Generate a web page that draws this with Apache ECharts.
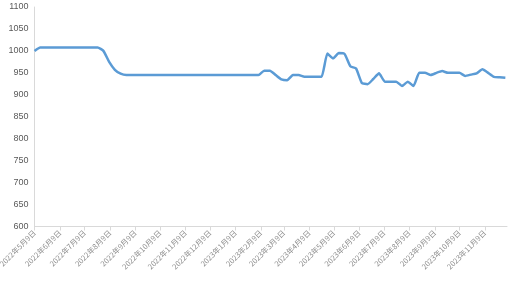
<!DOCTYPE html>
<html>
<head>
<meta charset="utf-8">
<script src="https://cdn.jsdelivr.net/npm/echarts@6/dist/echarts.min.js"></script>
<style>html,body{margin:0;padding:0;background:#fff}#c{width:508px;height:281px}</style>
</head>
<body>
<div id="c"></div>
<script>
// Weekly observation dates
var dates = [
  '2022-05-09','2022-05-16','2022-05-23','2022-05-30','2022-06-06','2022-06-13','2022-06-20','2022-06-27',
  '2022-07-04','2022-07-11','2022-07-18','2022-07-25','2022-08-01','2022-08-08','2022-08-15','2022-08-22',
  '2022-08-29','2022-09-05','2022-09-12','2022-09-19','2022-09-26','2022-10-03','2022-10-10','2022-10-17',
  '2022-10-24','2022-10-31','2022-11-07','2022-11-14','2022-11-21','2022-11-28','2022-12-05','2022-12-12',
  '2022-12-19','2022-12-26','2023-01-02','2023-01-09','2023-01-16','2023-01-23','2023-01-30','2023-02-06',
  '2023-02-13','2023-02-20','2023-02-27','2023-03-06','2023-03-13','2023-03-20','2023-03-27','2023-04-03',
  '2023-04-10','2023-04-17','2023-04-24','2023-05-01','2023-05-08','2023-05-15','2023-05-22','2023-05-29',
  '2023-06-05','2023-06-12','2023-06-19','2023-06-26','2023-07-03','2023-07-10','2023-07-17','2023-07-24',
  '2023-07-31','2023-08-07','2023-08-14','2023-08-21','2023-08-28','2023-09-04','2023-09-11','2023-09-18',
  '2023-09-25','2023-10-02','2023-10-09','2023-10-16','2023-10-23','2023-10-30','2023-11-06','2023-11-13',
  '2023-11-20','2023-11-27','2023-12-04'
];
var values = [
  1000,
  1008,1008,1008,1008,1008,1008,1008,1008,1008,1008,1008,
  1000,975,957,948,
  945,945,945,945,945,945,945,945,945,945,945,945,945,945,945,945,945,945,945,945,945,945,945,945,
  955,955,945,935,933,945,945,941,941,941,941,994,983,995,993,965,960,927,924,936,
  949,930,930,930,920,930,920,950,950,945,950,954,950,950,950,943,946,949,958,950,
  941,940,939
];
// Axis tick label dates (9th of each month)
var tickDates = [
  '2022-05-09','2022-06-09','2022-07-09','2022-08-09','2022-09-09','2022-10-09','2022-11-09','2022-12-09',
  '2023-01-09','2023-02-09','2023-03-09','2023-04-09','2023-05-09','2023-06-09','2023-07-09','2023-08-09',
  '2023-09-09','2023-10-09','2023-11-09'
];
var xMin = '2022-05-09', xMax = '2023-12-06';
var yMin = 600, yMax = 1100, yStep = 50;

var DAY = 86400000;
function utc(s){var p=s.split('-');return Date.UTC(+p[0],+p[1]-1,+p[2]);}
var base = utc(xMin);
function dayNum(s){return Math.round((utc(s)-base)/DAY);}
function fmt(v){var d=new Date(base+Math.round(v)*DAY);return d.getUTCFullYear()+'年'+(d.getUTCMonth()+1)+'月'+d.getUTCDate()+'日';}

var seriesData = dates.map(function(d,i){return [dayNum(d), values[i]];});
var tickPos = tickDates.map(dayNum);

var chart = echarts.init(document.getElementById('c'), null, {renderer:'canvas'});
chart.setOption({
  animation:false,
  grid:{left:34.5,right:1,top:7,bottom:54.5,outerBoundsMode:'none',containLabel:false},
  xAxis:{
    type:'value', min:0, max:dayNum(xMax),
    axisLine:{show:true,onZero:false,lineStyle:{color:'#d9d9d9',width:1}},
    axisTick:{show:true,customValues:tickPos,length:4,lineStyle:{color:'#d9d9d9'}},
    axisLabel:{customValues:tickPos,formatter:fmt,rotate:45,fontSize:7.5,color:'#8c8c8c',margin:5,
      fontFamily:'"Noto Sans CJK SC", sans-serif',hideOverlap:false,showMinLabel:true,showMaxLabel:true},
    splitLine:{show:false}
  },
  yAxis:{
    type:'value', min:yMin, max:yMax, interval:yStep,
    axisLine:{show:true,lineStyle:{color:'#d9d9d9',width:1}},
    axisTick:{show:false},
    axisLabel:{fontSize:9,color:'#595959',margin:6,formatter:function(v){return String(v);},
      fontFamily:'"Liberation Sans", Arial, sans-serif'},
    splitLine:{show:false}
  },
  series:[{
    type:'line', data:seriesData, showSymbol:false, smooth:0.15,
    lineStyle:{color:'#5B9BD5',width:2.5}, itemStyle:{color:'#5B9BD5'}
  }]
});
</script>
</body>
</html>
